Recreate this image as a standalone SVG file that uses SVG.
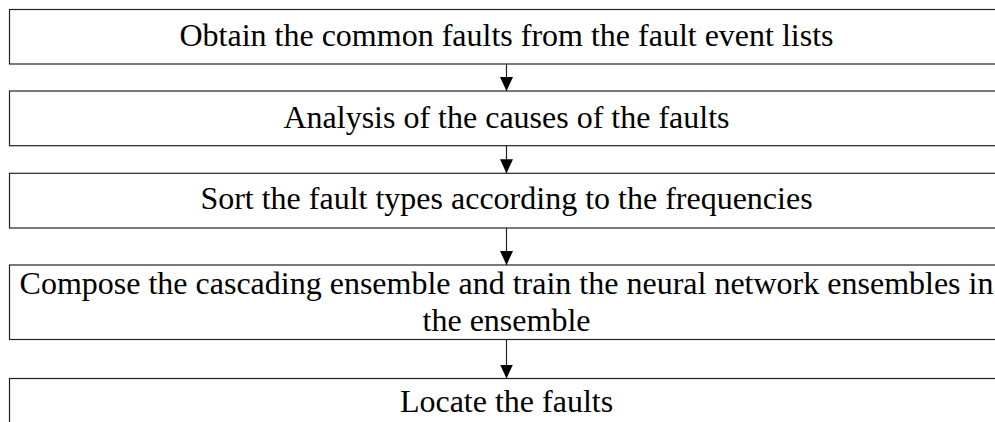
<svg xmlns="http://www.w3.org/2000/svg" width="995" height="422" viewBox="0 0 995 422">
<style>
.box{fill:#fff;stroke:#222;stroke-width:1.2}
.lbl{font-family:"Liberation Serif","Times New Roman",serif;font-size:32px;fill:#000;text-anchor:middle}
.conn{stroke:#222;stroke-width:1.2;fill:none}
</style>
<defs>
<marker id="ah" viewBox="0 0 14 13" refX="14" refY="6.5" markerWidth="14" markerHeight="13" markerUnits="userSpaceOnUse" orient="auto">
<path d="M0,0 L14,6.5 L0,13 Z" fill="#000"/>
</marker>
</defs>
<rect width="995" height="422" fill="#fff"/>
<g id="n1"><rect class="box" x="9.5" y="9.5" width="996" height="54.5"/><text class="lbl" x="506.5" y="45.5">Obtain the common faults from the fault event lists</text></g>
<g id="n2"><rect class="box" x="9.5" y="91" width="996" height="54.7"/><text class="lbl" x="506.5" y="128">Analysis of the causes of the faults</text></g>
<g id="n3"><rect class="box" x="9.5" y="173.3" width="996" height="54.7"/><text class="lbl" x="506.5" y="208.5">Sort the fault types according to the frequencies</text></g>
<g id="n4"><rect class="box" x="9.5" y="265" width="996" height="74.5"/><text class="lbl" x="506.5" y="293.5">Compose the cascading ensemble and train the neural network ensembles in</text><text class="lbl" x="506.5" y="330.5">the ensemble</text></g>
<g id="n5"><rect class="box" x="9.5" y="378.5" width="996" height="60"/><text class="lbl" x="506.5" y="411.5">Locate the faults</text></g>
<g id="connectors">
<line class="conn" x1="506.5" y1="64" x2="506.5" y2="91" marker-end="url(#ah)"/>
<line class="conn" x1="506.5" y1="145.7" x2="506.5" y2="173.3" marker-end="url(#ah)"/>
<line class="conn" x1="506.5" y1="228" x2="506.5" y2="265" marker-end="url(#ah)"/>
<line class="conn" x1="506.5" y1="339.5" x2="506.5" y2="378.5" marker-end="url(#ah)"/>
</g>
</svg>
